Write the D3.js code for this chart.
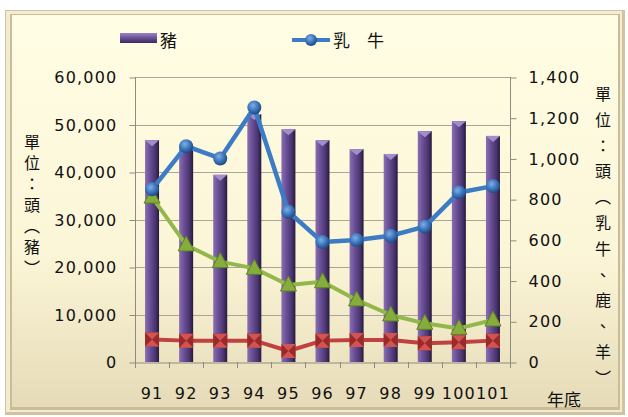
<!DOCTYPE html>
<html>
<head>
<meta charset="utf-8">
<script src="https://cdn.jsdelivr.net/npm/d3@7"></script>
<style>
  body { margin: 0; background: #fff; }
  text { font-family: "DejaVu Sans", "Noto Sans CJK TC", sans-serif; fill: #111; }
  .cjk { font-family: "Noto Sans CJK TC", sans-serif; }
</style>
</head>
<body>
<div id="chart"></div>
<script>
var years = ["91", "92", "93", "94", "95", "96", "97", "98", "99", "100", "101"];
var pigs = [46700, 45500, 39400, 52200, 49000, 46700, 44800, 43800, 48600, 50700, 47600];
var dairy = [848, 1060, 1000, 1250, 738, 589, 599, 620, 665, 833, 864];
var deer = [810, 575, 493, 460, 378, 394, 305, 231, 190, 165, 206];
var sheep = [111, 105, 105, 105, 54, 105, 108, 108, 92, 97, 105];
var leftTicks = [0, 10000, 20000, 30000, 40000, 50000, 60000];
var rightTicks = [0, 200, 400, 600, 800, 1000, 1200, 1400];

var width = 628, height = 417;

var svg = d3.select("#chart").append("svg")
  .attr("width", width)
  .attr("height", height);

var defs = svg.append("defs");

var bg = defs.append("linearGradient").attr("id", "bg").attr("x1", 0).attr("y1", 0).attr("x2", 0).attr("y2", 1);
bg.append("stop").attr("offset", "0%").attr("stop-color", "#fffde4");
bg.append("stop").attr("offset", "60%").attr("stop-color", "#fcf6d8");
bg.append("stop").attr("offset", "100%").attr("stop-color", "#e6dbb8");

var barGrad = defs.append("linearGradient").attr("id", "bar").attr("x1", 0).attr("y1", 0).attr("x2", 1).attr("y2", 0);
barGrad.append("stop").attr("offset", "0%").attr("stop-color", "#8a6fb2");
barGrad.append("stop").attr("offset", "35%").attr("stop-color", "#6a4f96");
barGrad.append("stop").attr("offset", "75%").attr("stop-color", "#48346e");
barGrad.append("stop").attr("offset", "100%").attr("stop-color", "#261a3a");

var legGrad = defs.append("linearGradient").attr("id", "legbar").attr("x1", 0).attr("y1", 0).attr("x2", 0).attr("y2", 1);
legGrad.append("stop").attr("offset", "0%").attr("stop-color", "#9c84c4");
legGrad.append("stop").attr("offset", "50%").attr("stop-color", "#6a4f96");
legGrad.append("stop").attr("offset", "100%").attr("stop-color", "#3a2a58");

var ball = defs.append("radialGradient").attr("id", "ball").attr("cx", "40%").attr("cy", "35%").attr("r", "65%");
ball.append("stop").attr("offset", "0%").attr("stop-color", "#7eaee6");
ball.append("stop").attr("offset", "60%").attr("stop-color", "#3a72b8");
ball.append("stop").attr("offset", "100%").attr("stop-color", "#1e4a80");

// frame
svg.append("rect").attr("x", 5).attr("y", 10).attr("width", 620).attr("height", 405).attr("fill", "#cfc3a0");
svg.append("rect").attr("x", 6).attr("y", 11).attr("width", 616).attr("height", 401).attr("fill", "#f4ecd0");
svg.append("rect").attr("x", 10).attr("y", 14).attr("width", 610).attr("height", 396).attr("fill", "#c9bd98");
svg.append("rect").attr("x", 12).attr("y", 15).attr("width", 606).attr("height", 392).attr("fill", "url(#bg)");

var x = d3.scaleBand().domain(years).range([135, 510]);
var yL = d3.scaleLinear().domain([0, 60000]).range([362, 77]);
var yR = d3.scaleLinear().domain([0, 1400]).range([362, 77]);

// grid
svg.append("g").selectAll("line").data(leftTicks.slice(1)).join("line")
  .attr("x1", 135).attr("x2", 510)
  .attr("y1", d => Math.round(yL(d)) + 0.5).attr("y2", d => Math.round(yL(d)) + 0.5)
  .attr("stroke", "#a9a599").attr("stroke-width", 1);

// axes
var axL = svg.append("g").attr("transform", "translate(135.5,0.5)")
  .call(d3.axisLeft(yL).tickValues(leftTicks).tickFormat(d3.format(",")).tickSize(6).tickPadding(12));
var axR = svg.append("g").attr("transform", "translate(510.5,0.5)")
  .call(d3.axisRight(yR).tickValues(rightTicks).tickFormat(d3.format(",")).tickSize(6).tickPadding(12));
var axB = svg.append("g").attr("transform", "translate(0,362.5)")
  .call(d3.axisBottom(x).tickSize(0).tickPadding(25));

[axL, axR, axB].forEach(function(a) {
  a.select(".domain").attr("stroke", "#8f8b80");
  a.selectAll(".tick line").attr("stroke", "#8f8b80");
  a.selectAll("text").attr("font-size", 16).attr("letter-spacing", "1.2px")
    .style("font-family", "'DejaVu Sans', sans-serif").attr("fill", "#111");
});
axL.select(".domain").remove();
svg.append("line").attr("x1", 135.5).attr("x2", 135.5).attr("y1", 77).attr("y2", 362).attr("stroke", "#8f8b80");
axR.select(".domain").remove();
svg.append("line").attr("x1", 510.5).attr("x2", 510.5).attr("y1", 77).attr("y2", 362).attr("stroke", "#8f8b80");

// x ticks at band edges
svg.append("g").selectAll("line").data(years.concat(["end"])).join("line")
  .attr("x1", (d, i) => Math.round(135 + i * x.step()) + 0.5)
  .attr("x2", (d, i) => Math.round(135 + i * x.step()) + 0.5)
  .attr("y1", 362).attr("y2", 368)
  .attr("stroke", "#8f8b80");

// bars
var bw = 14;
var bars = svg.append("g");
bars.selectAll("rect").data(pigs).join("rect")
  .attr("x", (d, i) => x(years[i]) + x.bandwidth() / 2 - bw / 2)
  .attr("y", d => yL(d))
  .attr("width", bw)
  .attr("height", d => yL(0) - yL(d))
  .attr("fill", "url(#bar)");
bars.selectAll("path").data(pigs).join("path")
  .attr("d", function(d, i) {
    var cx = x(years[i]) + x.bandwidth() / 2, t = yL(d);
    return "M" + (cx - bw / 2) + "," + t + "L" + (cx + bw / 2) + "," + t + "L" + cx + "," + (t + 6) + "Z";
  })
  .attr("fill", "#a58ccc");

var cxOf = (d, i) => x(years[i]) + x.bandwidth() / 2;
var line = d3.line().x(cxOf).y(d => yR(d));

// sheep (red)
svg.append("path").datum(sheep).attr("d", line)
  .attr("fill", "none").attr("stroke", "#c0413f").attr("stroke-width", 4).attr("stroke-linejoin", "round");
var sq = svg.append("g").selectAll("g").data(sheep).join("g")
  .attr("transform", (d, i) => "translate(" + cxOf(d, i) + "," + yR(d) + ")");
sq.append("rect").attr("x", -7).attr("y", -7).attr("width", 14).attr("height", 14).attr("fill", "#9a2a2a");
sq.append("path").attr("d", "M-7,-7L7,-7L0,0Z M-7,7L7,7L0,0Z").attr("fill", "#d05552");

// deer (green)
svg.append("path").datum(deer).attr("d", line)
  .attr("fill", "none").attr("stroke", "#92b84c").attr("stroke-width", 4).attr("stroke-linejoin", "round");
svg.append("g").selectAll("path").data(deer).join("path")
  .attr("transform", (d, i) => "translate(" + cxOf(d, i) + "," + yR(d) + ")")
  .attr("d", "M0,-9L8,6L-8,6Z")
  .attr("fill", "#86ad3c").attr("stroke", "#5f8228").attr("stroke-width", 1);

// dairy (blue)
svg.append("path").datum(dairy).attr("d", line)
  .attr("fill", "none").attr("stroke", "#3d7cc4").attr("stroke-width", 4.5).attr("stroke-linejoin", "round");
svg.append("g").selectAll("circle").data(dairy).join("circle")
  .attr("cx", cxOf).attr("cy", d => yR(d)).attr("r", 7)
  .attr("fill", "url(#ball)");

// legend
svg.append("rect").attr("x", 120).attr("y", 33).attr("width", 37).attr("height", 10).attr("fill", "url(#legbar)");
svg.append("text").attr("class", "cjk").attr("x", 160).attr("y", 47).attr("font-size", 17).text("豬");
svg.append("line").attr("x1", 292).attr("x2", 330).attr("y1", 40).attr("y2", 40)
  .attr("stroke", "#3d7cc4").attr("stroke-width", 4);
svg.append("circle").attr("cx", 311).attr("cy", 40).attr("r", 6).attr("fill", "url(#ball)");
svg.append("text").attr("class", "cjk").attr("x", 333).attr("y", 47).attr("font-size", 17).text("乳　牛");

// axis titles
svg.append("text").attr("class", "cjk")
  .attr("x", 32).attr("y", 134)
  .attr("font-size", 16)
  .style("writing-mode", "vertical-rl")
  .attr("letter-spacing", "5px")
  .text("單位：頭（豬）");
svg.append("text").attr("class", "cjk")
  .attr("x", 603).attr("y", 86)
  .attr("font-size", 16)
  .style("writing-mode", "vertical-rl")
  .attr("letter-spacing", "9.8px")
  .text("單位：頭（乳牛、鹿、羊）");
svg.append("text").attr("class", "cjk")
  .attr("x", 547).attr("y", 406).attr("font-size", 17).text("年底");
</script>
</body>
</html>
